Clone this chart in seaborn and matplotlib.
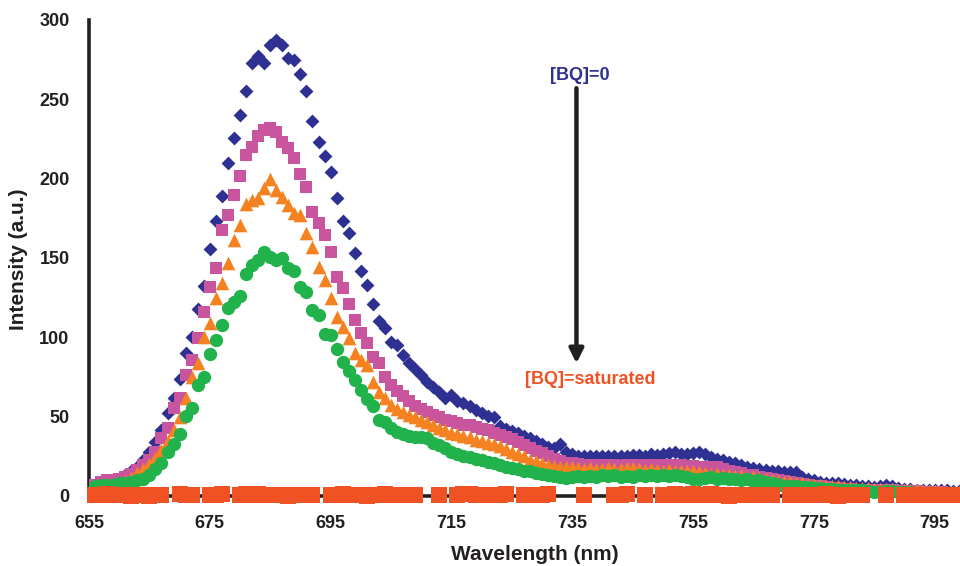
import numpy as np
import pandas as pd
import matplotlib
matplotlib.use("Agg")
import matplotlib.pyplot as plt
import seaborn as sns

# Emission wavelength grid (nm), one reading per nanometre
wavelength = np.arange(656, 800)

# Fluorescence intensity (a.u.) as benzoquinone is added
bq_zero = [
    6, 7, 8, 9, 11, 13, 15.5, 18.5, 22.7,
    28, 34, 41.6, 52, 61.6, 74, 90, 100.5, 118, 132.5,
    155.6, 173.6, 189, 210, 225.5, 240, 255, 273, 277, 273,
    284, 287.5, 284, 276, 274.5, 266, 255, 236.6, 223, 214,
    204.5, 188, 173.4, 165.6, 153.2, 142, 133, 120.7, 110, 105.8,
    97.2, 95.1, 88.6, 83.7, 79.9, 76.3, 72, 69, 65.8, 61.6,
    63.7, 60, 58.4, 56.5, 54, 52, 50.5, 49.5, 44, 42.5,
    41, 39.5, 38, 36.4, 34.5, 33, 31, 30, 32.5, 28,
    26.5, 25, 25.5, 25, 25.5, 25, 25.5, 25, 25.5, 25.5,
    26, 26, 25.5, 26.5, 26, 26.5, 27, 27.5, 26.5, 26.5,
    27, 27.5, 26.5, 24.5, 23.5, 22.5, 21.5, 20.5, 19.5, 18.5,
    17.5, 17, 16.5, 16, 15.5, 15, 15, 15, 12, 10.5,
    10, 9, 8.5, 8, 8, 7.5, 7, 7, 6.5, 6,
    5.5, 6, 7, 6.5, 5, 4.5, 4.5, 4, 4, 3.5,
    3.5, 3.5, 3.5, 3, 3,
]
bq_low = [
    7, 9, 10, 10, 11, 12, 14, 16.4, 19.5,
    22.7, 28, 36.4, 42.7, 55.3, 61.6, 76.3, 85.8, 99.4, 116.2,
    132, 144, 167.7, 177.2, 189.8, 201.4, 215, 220, 226.6, 230.8,
    231.8, 229.7, 223.4, 219.2, 213, 202.8, 195, 178.9, 172, 164.6,
    154, 138.3, 131, 121, 111, 102.6, 96.3, 87.8, 83.7, 75,
    70, 66, 63, 60, 57, 55, 53, 51, 49.5, 48,
    47, 46, 45, 44.5, 43.5, 42.5, 41.5, 40, 38.5, 37,
    36, 34, 32, 30, 28.5, 27, 25, 23.5, 22, 21,
    20.5, 20, 19.5, 19.5, 19, 19.5, 19, 19.5, 19, 19.5,
    19, 19.5, 19.5, 19, 19.5, 19, 19.5, 19, 19.5, 19,
    19, 18.5, 18.5, 18, 18, 17, 16, 15, 14.5, 13.5,
    13, 12, 11.5, 11, 10, 9.5, 9, 8, 7.5, 7,
    6.5, 6, 5.5, 5, 5, 4.5, 4.5, 4, 4, 4,
    3.5, 3.5, 3.5, 3.5, 3, 3, 3, 3, 2.5, 2.5,
    2.5, 2.5, 2, 2, 2,
]
bq_mid = [
    5, 5, 6, 7, 8, 9.5, 11.5, 14.3, 16.8,
    20, 23.8, 29, 34.9, 41.6, 49.6, 61.6, 75.2, 84, 100.4,
    109.3, 124.6, 134.5, 147, 161.4, 170.9, 184, 186.3, 188, 194,
    199.5, 193, 188.7, 183.5, 178.2, 177.2, 165.6, 157.2, 144.6, 136,
    124.6, 113, 106.7, 99.4, 90, 85.8, 82.6, 72, 65.8, 61.6,
    57.4, 55, 53, 51, 50, 48, 46.8, 45, 43, 41.6,
    40, 39, 38, 37, 35.5, 34.5, 33.5, 32.5, 31.5, 29.5,
    28, 26.5, 25, 23, 22, 21, 19.5, 19, 18.5, 18,
    18, 17.5, 17, 17.5, 17, 17, 17.5, 17, 17, 17.5,
    17.5, 17, 16.5, 17, 16.5, 16, 16.5, 16, 16, 15.5,
    16, 15, 14.5, 14, 14, 13.5, 13, 12.5, 12.5, 12,
    12, 11.5, 11, 10, 9.5, 9, 9, 8.5, 8, 7.5,
    7, 7, 6.5, 6, 6, 5.5, 5.5, 5, 5, 5,
    4.5, 4.5, 4.5, 4.5, 4, 4, 3.5, 3.5, 3, 3,
    3, 2.5, 2.5, 2.5, 2.5,
]
bq_high = [
    6.5, 7, 7, 7, 8, 8.5, 9, 10, 11,
    13.5, 17, 20.6, 28, 32.5, 39, 50.5, 55.3, 70, 75.2,
    89.5, 98.2, 107.5, 118.5, 122, 125.8, 139.8, 145.6, 148.5, 153.8,
    150.7, 149, 150, 144, 142, 131.8, 128.5, 117.5, 113.8, 102.3,
    101.2, 92.8, 84.7, 79, 73, 67, 61, 57, 48, 46.8,
    42.7, 40.5, 39, 37.8, 37.2, 37, 36.4, 33.5, 32, 30,
    28, 26.5, 25.5, 24.5, 23.5, 22.5, 21.5, 21, 19.5, 18.5,
    17.5, 17, 16, 15.5, 14.5, 14, 13, 12.5, 12, 11.5,
    12, 12.5, 12, 12.5, 12, 13, 12.5, 13, 12, 12.5,
    12, 13, 12.5, 13, 12.5, 13, 12.5, 13, 12.5, 12,
    11, 10.5, 11.5, 12, 11, 11.5, 10.5, 11, 10, 10.5,
    9.5, 10, 9, 8.5, 7.5, 6.5, 6, 6, 5.5, 5.5,
    5, 5, 4.5, 4.5, 4, 4, 3.5, 3.5, 3.5, 3,
    2.5, 2.5, 3, 3, 2.5, 2.5, 2.5, 2, 2, 2,
    2, 2, 2, 2, 2,
]
bq_saturated = [
    0.8, 0.5, 1.0, 0.6, 0.4, 0.9, 0.3, 0.7, 0.5,
    0.2, 0.6, 0.4, -1, -1, 1.2, 0.5, 0.8, -1, -1,
    0.9, 0.6, 1.1, -1, -1, 0.7, 1.0, 0.5, 1.3, 0.8,
    0.4, 0.6, 0.9, 0.3, 0.5, 0.7, 0.4, 0.8, -1, -1,
    0.5, 0.9, 1.2, 0.8, 0.4, 0.6, 0.3, 0.7, 0.9, 1.1,
    0.6, 0.4, 0.8, 0.5, 0.7, -1, -1, -1, 0.9, -1,
    -1, 0.6, 1.0, 1.3, 0.8, 0.5, 0.9, 0.4, 0.7, 1.0,
    -1, -1, 0.8, 0.5, 0.9, 0.6, 1.1, -1, -1, -1,
    -1, -1, 0.6, -1, -1, -1, -1, 0.9, 0.5, 1.0,
    -1, -1, 0.7, -1, -1, 0.5, 0.9, 1.2, 0.6, 0.8,
    1.0, 0.4, 0.7, 1.1, 0.5, 0.8, 0.3, 0.6, 0.9, 0.5,
    0.7, 0.4, 0.8, 0.6, -1, -1, 0.5, 0.9, 0.7, 0.4,
    0.8, 0.5, 1.0, 0.6, 0.3, 0.7, 0.5, 0.9, 0.6, -1,
    -1, -1, 0.8, -1, -1, 0.6, 0.9, 0.5, 0.7, 0.4,
    0.8, 0.6, 0.5, 0.9, 0.7,
]

x_ticks = [655, 675, 695, 715, 735, 755, 775, 795]
y_ticks = [0, 50, 100, 150, 200, 250, 300]

NAVY = "#2E3192"
PINK = "#C9559F"
ORANGE = "#F58220"
GREEN = "#22B24C"
VERMILION = "#F05224"
INK = "#231F20"

# series: values, marker, marker area (pt^2), colour
series = [
    ("bq_zero", bq_zero, "D", 50, NAVY),
    ("bq_low", bq_low, "s", 80, PINK),
    ("bq_mid", bq_mid, "^", 96, ORANGE),
    ("bq_high", bq_high, "o", 92, GREEN),
    ("bq_saturated", bq_saturated, "s", 128, VERMILION),
]

sns.set_theme(style="white")
plt.rcParams["font.family"] = ["Liberation Sans", "DejaVu Sans"]
plt.rcParams["font.weight"] = "bold"

fig = plt.figure(figsize=(9.6, 5.66), dpi=100)
ax = fig.add_axes([89 / 960, 70 / 566, 871 / 960, 476 / 566])

frames = []
for name, values, _, _, _ in series:
    frames.append(pd.DataFrame({"wavelength": wavelength, "intensity": values, "series": name}))
data = pd.concat(frames, ignore_index=True)

# points below the axis floor are not drawn
for z, (name, _, marker, size, colour) in enumerate(series):
    sub = data[(data["series"] == name) & (data["intensity"] >= 0)]
    sns.scatterplot(data=sub, x="wavelength", y="intensity", ax=ax,
                    marker=marker, s=size, color=colour, linewidth=0,
                    clip_on=False, zorder=3 + z, legend=False)

ax.set_xlim(655, 799.2)
ax.set_ylim(0, 300)
ax.set_xticks(x_ticks)
ax.set_yticks(y_ticks)
ax.set_xticklabels([str(t) for t in x_ticks])
ax.set_yticklabels([str(t) for t in y_ticks])

for side in ("top", "right"):
    ax.spines[side].set_visible(False)
for side in ("left", "bottom"):
    ax.spines[side].set_color(INK)
    ax.spines[side].set_linewidth(2.6)
    ax.spines[side].set_zorder(2)

ax.tick_params(axis="both", direction="out", length=4, width=1.8, color=INK,
               labelsize=13, labelcolor=INK, pad=10)
for lab in ax.get_xticklabels() + ax.get_yticklabels():
    lab.set_fontweight("bold")

ax.set_xlabel("Wavelength (nm)", fontsize=15, fontweight="bold", color=INK, va="center")
ax.xaxis.set_label_coords(0.512, -0.122)
ax.set_ylabel("Intensity (a.u.)", fontsize=15, fontweight="bold", color=INK, va="center")
ax.yaxis.set_label_coords(-0.0815, 0.498)

# quenching direction
ax.annotate("", xy=(735.7, 83.6), xytext=(735.7, 257),
            arrowprops=dict(arrowstyle="-|>,head_length=0.6,head_width=0.3",
                            lw=3.2, color=INK, shrinkA=0, shrinkB=0,
                            mutation_scale=14), zorder=10)
ax.text(736.3, 265.0, "[BQ]=0", color=NAVY, fontsize=13, fontweight="bold",
        ha="center", va="center", zorder=10)
ax.text(738.0, 73.7, "[BQ]=saturated", color=VERMILION, fontsize=13,
        fontweight="bold", ha="center", va="center", zorder=10)

fig.savefig("out.png", dpi=100, facecolor="white")
